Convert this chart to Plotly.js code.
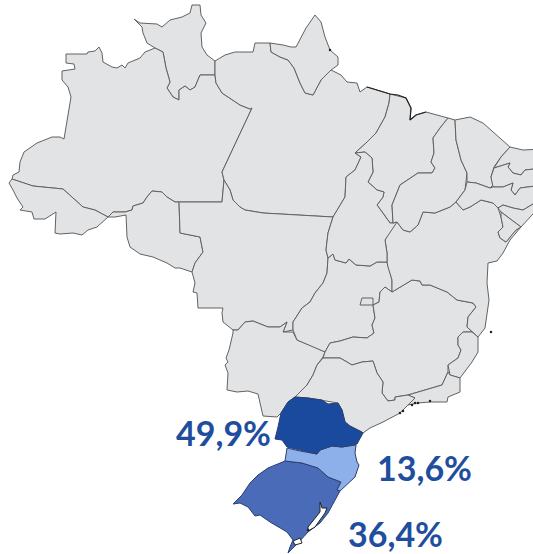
<!DOCTYPE html>
<html>
<head>
<meta charset="utf-8">
<script src="https://cdn.plot.ly/plotly-3.0.1.min.js"></script>
<style>html,body{margin:0;padding:0;background:#fff}#chart{width:533px;height:554px}</style>
</head>
<body>
<div id="chart"></div>
<script>
// State outlines, as [x, y] in picture units.
const roraima=[[134,19],[140,23],[157,24],[162,27],[170,20],[182,17],[190,13],[192,5],[200,5],[201,15],[206,23],[201,33],[202,47],[207,55],[215,61],[215,75],[200,75],[195,87],[190,90],[185,86],[179,90],[179,100],[173,97],[167,88],[170,82],[166,68],[163,52],[155,48],[147,43],[143,33],[142,27]];
const amazonas=[[66,54],[87,54],[88,52],[95,51],[99,47],[102,53],[103,62],[112,67],[117,68],[122,65],[125,68],[128,63],[140,58],[145,52],[155,48],[163,52],[166,68],[170,82],[167,88],[173,97],[179,100],[179,90],[185,86],[190,90],[195,87],[200,75],[215,75],[216,83],[222,93],[230,98],[240,105],[250,109],[252,108],[222,172],[224,180],[222,202],[179,202],[175,202],[167,197],[162,192],[152,191],[147,197],[143,203],[133,206],[132,210],[125,212],[113,212],[108,217],[95,210],[83,207],[63,189],[33,186],[12,179],[13,175],[19,172],[20,162],[24,152],[37,143],[52,137],[60,137],[64,139],[71,97],[68,87],[62,80],[62,71],[75,69],[74,64],[66,63]];
const acre=[[12,179],[9,183],[13,190],[17,198],[23,207],[20,210],[32,212],[34,219],[45,219],[56,212],[55,233],[60,234],[73,233],[82,235],[88,230],[97,227],[108,217],[95,210],[83,207],[63,189],[33,186]];
const rondonia=[[108,217],[115,217],[126,215],[127,237],[130,247],[140,254],[153,257],[167,263],[175,268],[180,268],[192,272],[195,263],[203,252],[200,237],[180,233],[179,202],[175,202],[167,197],[162,192],[152,191],[147,197],[143,203],[133,206],[132,210],[125,212],[113,212]];
const para=[[215,61],[225,55],[235,52],[253,52],[255,43],[263,43],[270,43],[271,52],[280,57],[288,60],[294,68],[300,83],[305,93],[313,95],[321,80],[331,70],[335,72],[341,75],[347,82],[357,83],[360,92],[367,87],[390,94],[389,103],[385,117],[376,133],[366,143],[355,153],[361,157],[355,170],[346,177],[345,197],[333,217],[263,213],[245,210],[240,207],[233,200],[230,190],[224,180],[222,172],[252,108],[250,109],[240,105],[230,98],[222,93],[216,83],[215,75]];
const amapa=[[270,43],[283,45],[291,47],[296,47],[306,28],[315,15],[321,22],[325,37],[330,50],[338,57],[338,65],[331,70],[321,80],[313,95],[305,93],[300,83],[294,68],[288,60],[280,57],[271,52]];
const matoGrosso=[[179,202],[222,202],[224,180],[230,190],[233,200],[240,207],[245,210],[263,213],[333,217],[328,233],[326,250],[328,258],[327,273],[323,283],[315,293],[310,302],[302,308],[293,322],[293,330],[283,332],[287,322],[280,327],[268,327],[253,321],[245,322],[238,330],[233,330],[223,322],[222,313],[223,308],[198,308],[197,293],[193,292],[195,283],[192,272],[195,263],[203,252],[200,237],[180,233]];
const matoGrossoSul=[[233,330],[233,333],[229,350],[226,358],[228,362],[225,365],[228,373],[227,390],[237,392],[248,391],[258,394],[263,416],[277,417],[281,413],[288,402],[295,397],[307,385],[313,375],[317,365],[323,357],[325,352],[317,348],[297,340],[293,332],[283,332],[287,322],[280,327],[268,327],[253,321],[245,322],[238,330]];
const goias=[[328,258],[327,273],[323,283],[315,293],[310,302],[302,308],[293,322],[293,330],[297,340],[317,348],[325,352],[330,343],[340,341],[353,337],[367,338],[374,333],[372,325],[375,318],[373,305],[379,302],[380,292],[385,287],[392,292],[392,280],[388,267],[387,262],[377,262],[370,266],[356,265],[349,259],[346,263],[335,260],[333,254]];
const distritoFederal=[[360,305],[362,298],[373,298],[373,305]];
const minasGerais=[[392,292],[412,280],[420,281],[422,285],[430,285],[447,292],[457,300],[473,303],[476,307],[468,317],[467,327],[472,332],[463,332],[458,337],[458,345],[461,350],[458,358],[448,365],[448,372],[442,385],[408,395],[395,397],[395,400],[388,401],[382,393],[383,382],[377,373],[373,361],[362,362],[352,365],[347,362],[340,358],[323,358],[325,352],[330,343],[340,341],[353,337],[367,338],[374,333],[372,325],[375,318],[373,305],[379,302],[380,292],[385,287]];
const bahia=[[392,292],[392,280],[388,267],[387,262],[387,253],[385,240],[391,227],[397,222],[403,230],[410,232],[418,225],[423,212],[435,213],[450,207],[456,202],[463,210],[470,207],[481,200],[493,203],[498,208],[501,217],[503,227],[498,232],[500,238],[506,242],[516,230],[521,227],[510,240],[503,253],[497,261],[488,263],[487,283],[489,300],[485,328],[478,337],[472,332],[467,327],[468,317],[476,307],[473,303],[457,300],[447,292],[430,285],[422,285],[420,281],[412,280]];
const espiritoSanto=[[478,337],[478,352],[472,362],[465,372],[460,378],[450,375],[448,365],[458,358],[461,350],[458,345],[458,337],[463,332],[472,332]];
const rioJaneiro=[[448,372],[450,375],[460,378],[460,392],[448,397],[447,402],[430,402],[418,403],[408,405],[415,398],[408,395],[442,385]];
const saoPaulo=[[295,397],[307,385],[313,375],[317,365],[323,358],[340,358],[347,362],[352,365],[362,362],[373,361],[377,373],[383,382],[382,393],[388,401],[395,400],[395,397],[408,395],[415,398],[408,405],[400,413],[383,422],[370,428],[363,433],[350,426],[345,422],[342,410],[338,403],[322,400],[308,398]];
const maranhao=[[390,94],[406,98],[411,108],[410,120],[416,115],[426,112],[448,118],[440,128],[433,138],[434,153],[431,162],[435,168],[432,173],[418,173],[400,185],[392,205],[393,223],[390,223],[383,213],[377,205],[383,197],[384,192],[377,190],[368,182],[373,172],[372,158],[365,152],[355,153],[366,143],[376,133],[385,117],[389,103]];
const tocantins=[[355,153],[365,152],[372,158],[373,172],[368,182],[377,190],[384,192],[383,197],[377,205],[383,213],[390,223],[393,223],[397,222],[385,240],[387,253],[387,262],[377,262],[370,266],[356,265],[349,259],[346,263],[335,260],[333,254],[328,258],[326,250],[328,233],[333,217],[345,197],[346,177],[355,170],[361,157]];
const piaui=[[448,118],[455,120],[456,140],[461,160],[467,173],[465,190],[456,202],[450,207],[435,213],[423,212],[418,225],[410,232],[403,230],[397,222],[393,223],[392,205],[400,185],[418,173],[432,173],[435,168],[431,162],[434,153],[433,138],[440,128]];
const ceara=[[455,120],[470,117],[483,123],[496,135],[510,147],[501,157],[494,167],[491,177],[493,185],[490,188],[476,183],[467,182],[467,173],[461,160],[456,140]];
const rioGrandeNorte=[[510,147],[523,150],[543,149],[543,168],[525,170],[521,175],[513,173],[508,167],[510,163],[494,168],[501,157]];
const paraiba=[[494,168],[510,163],[508,167],[513,173],[521,175],[525,170],[543,168],[543,185],[520,188],[515,195],[511,190],[513,183],[503,187],[493,187],[491,177]];
const pernambuco=[[467,182],[476,183],[490,188],[493,187],[503,187],[513,183],[511,190],[515,195],[520,188],[543,185],[543,198],[523,210],[513,208],[503,205],[498,208],[493,203],[481,200],[470,207],[463,210],[456,202],[465,190]];
const alagoas=[[498,208],[503,205],[513,208],[523,210],[543,198],[543,203],[521,227],[501,212]];
const sergipe=[[501,212],[521,227],[516,230],[506,242],[500,238],[498,232],[503,227],[501,217]];
const parana=[[295,397],[308,398],[322,400],[328,404],[338,403],[342,410],[345,422],[350,426],[362,432],[363,433],[357,444],[342,447],[332,446],[320,450],[317,454],[300,450],[287,447],[282,440],[275,439],[278,427],[281,413],[288,402]];
const santaCatarina=[[287,448],[300,451],[317,454],[320,450],[332,446],[342,447],[356,445],[355,453],[357,462],[359,465],[355,477],[340,491],[337,490],[341,482],[328,477],[318,468],[302,463],[285,461]];
const rioGrandeSul=[[285,461],[302,463],[318,468],[328,477],[341,482],[337,490],[340,491],[335,500],[328,513],[320,523],[308,532],[298,543],[288,553],[290,547],[293,540],[287,532],[270,522],[260,515],[255,516],[248,507],[240,503],[233,504],[242,495],[250,483],[258,475],[268,468],[277,464]];
const lagoaPatos=[[320,502],[322,508],[327,508],[325,513],[315,527],[308,531],[308,527],[315,518],[320,512]];
const lagoaMirim=[[293,541],[300,538],[302,543],[295,545]];
const coastLine=[[367,87],[380,91],[390,94],[398,95],[406,98],[411,108],[410,120],[416,115],[426,112]];
const darkSpecks=[[400,413],[403,411],[412,405],[415,403],[418,403],[430,401],[308,530],[491,332],[330,50]];

const greyStates=[roraima,amazonas,acre,rondonia,para,amapa,matoGrosso,matoGrossoSul,goias,minasGerais,bahia,espiritoSanto,rioJaneiro,saoPaulo,maranhao,tocantins,piaui,ceara,rioGrandeNorte,paraiba,pernambuco,alagoas,sergipe,distritoFederal];
const highlighted=[[rioGrandeSul,'#4a6cb8'],[santaCatarina,'#8dafea'],[parana,'#1a4a9e']];
const lakes=[lagoaPatos,lagoaMirim];

const labelTexts=['49,9%','13,6%','36,4%'];
const labelX=[223,424,395];
const labelY=[432,467,533];

function shape(points,fill,line){
  return {
    type:'scatter',mode:'lines',fill:'toself',fillcolor:fill,
    x:points.map(p=>p[0]).concat(points[0][0]),
    y:points.map(p=>p[1]).concat(points[0][1]),
    line:{color:line,width:1,shape:'linear'},
    hoverinfo:'skip',showlegend:false
  };
}
const traces=[];
greyStates.forEach(s=>traces.push(shape(s,'#e2e3e5','#626262')));
highlighted.forEach(h=>traces.push(shape(h[0],h[1],'#2a3f70')));
lakes.forEach(s=>traces.push(shape(s,'#ffffff','#222222')));
traces.push({type:'scatter',mode:'lines',x:coastLine.map(p=>p[0]),y:coastLine.map(p=>p[1]),
  line:{color:'#222222',width:1.2},hoverinfo:'skip',showlegend:false});
traces.push({type:'scatter',mode:'markers',x:darkSpecks.map(p=>p[0]),y:darkSpecks.map(p=>p[1]),
  marker:{color:'#222222',size:2.5},hoverinfo:'skip',showlegend:false});

const layout={
  width:533,height:554,
  margin:{l:0,r:0,t:0,b:0,pad:0},
  paper_bgcolor:'#ffffff',plot_bgcolor:'#ffffff',
  xaxis:{range:[0,533],visible:false,fixedrange:true},
  yaxis:{range:[554,0],visible:false,fixedrange:true},
  showlegend:false,
  annotations:labelTexts.map((t,i)=>({
    text:'<b>'+t+'</b>',x:labelX[i],y:labelY[i],xref:'x',yref:'y',
    showarrow:false,xanchor:'center',yanchor:'middle',
    font:{family:'Lato, "Open Sans", sans-serif',size:34,color:'#1f4e9e'}
  }))
};
Plotly.newPlot('chart',traces,layout,{displayModeBar:false,staticPlot:true});
</script>
</body>
</html>
